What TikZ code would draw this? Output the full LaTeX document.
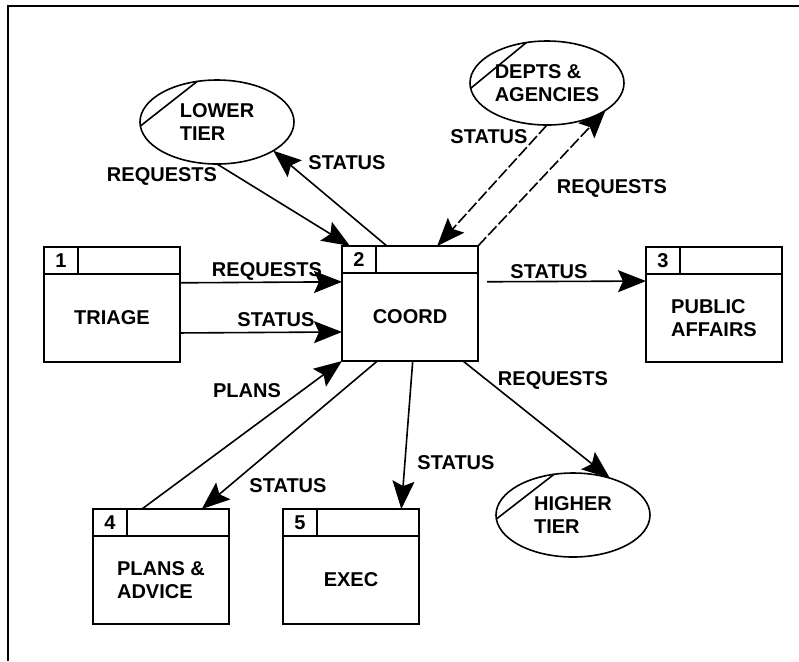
\documentclass[tikz,border=0pt]{standalone}
\usepackage{fontspec}
\setmainfont{Liberation Sans}
\usepackage{tikz}
\usetikzlibrary{arrows.meta,positioning,shapes.geometric,calc}

\begin{document}
\begin{tikzpicture}[
    x=0.5pt, y=-0.5pt,
    every node/.append style={font=\fontsize{10}{11.5}\selectfont\bfseries, outer sep=0pt},
    proc/.style={draw, line width=0.9pt, minimum width=68pt, minimum height=44pt, align=left},
    hdr/.style={draw, line width=0.9pt, minimum width=68pt, minimum height=13.5pt, inner sep=0pt},
    num/.style={draw, line width=0.9pt, minimum width=17pt, minimum height=13.5pt, inner sep=0pt},
    ext/.style={draw, ellipse, line width=0.8pt, minimum width=77pt, minimum height=42pt,
                inner sep=0pt, align=left},
    flow/.style={-{Stealth[length=14pt, width=11pt, inset=2.5pt]}, line width=0.8pt},
    faint/.style={dash pattern=on 6pt off 1.5pt},
    lbl/.style={inner sep=0pt},
  ]
  \useasboundingbox (0,0) rectangle (799,661);
  % frame
  \draw[line width=1pt] (8,661) -- (8,6) -- (799,6);

  % processes
  \node[proc] (b1) at (112,318) {TRIAGE};
  \node[hdr, above=0pt of b1] (h1) {};
  \node[num, right=0pt of h1.west] (n1) {1};

  \node[proc] (b2) at (410,317) {COORD};
  \node[hdr, above=0pt of b2] (h2) {};
  \node[num, right=0pt of h2.west] (n2) {2};

  \node[proc] (b3) at (714,318) {PUBLIC\\AFFAIRS};
  \node[hdr, above=0pt of b3] (h3) {};
  \node[num, right=0pt of h3.west] (n3) {3};

  \node[proc] (b4) at (161,580) {PLANS \&\\ADVICE};
  \node[hdr, above=0pt of b4] (h4) {};
  \node[num, right=0pt of h4.west] (n4) {4};

  \node[proc] (b5) at (351,580) {EXEC};
  \node[hdr, above=0pt of b5] (h5) {};
  \node[num, right=0pt of h5.west] (n5) {5};

  % externals
  \node[ext] (lt) at (217,122) {LOWER\\TIER};
  \node[ext] (da) at (547,83)  {DEPTS \&\\AGENCIES};
  \node[ext] (ht) at (573,515) {HIGHER\\TIER};
  \draw[line width=0.8pt] (lt.183) -- (lt.116);
  \draw[line width=0.8pt] (da.184) -- (da.117);
  \draw[line width=0.8pt] (ht.183) -- (ht.115);

  % flows
  \draw[flow] (lt.south) -- ($(h2.north west)+(8,0)$);
  \draw[flow] ($(h2.north west)!0.33!(h2.north east)$) -- (lt.-27);
  \draw[flow, faint] (da.south) -- ($(h2.north west)!0.7!(h2.north east)$);
  \draw[flow, faint] (h2.north east) -- (da.-25);
  \draw[flow] ($(b1.north east)!0.1!(b1.south east)$) -- ($(b2.north west)!0.1!(b2.south west)$);
  \draw[flow] ($(b1.north east)!0.67!(b1.south east)$) -- ($(b2.north west)!0.67!(b2.south west)$);
  \draw[flow, shorten <=4.5pt] ($(b2.north east)!0.1!(b2.south east)$) -- ($(b3.north west)!0.08!(b3.south west)$);
  \draw[flow] ($(h4.north west)!0.36!(h4.north east)$) -- (b2.south west);
  \draw[flow] ($(b2.south west)!0.26!(b2.south east)$) -- ($(h4.north west)!0.8!(h4.north east)$);
  \draw[flow] ($(b2.south west)!0.52!(b2.south east)$) -- ($(h5.north west)!0.87!(h5.north east)$);
  \draw[flow] ($(b2.south west)!0.89!(b2.south east)$) -- (ht.45);

  % flow labels
  \node[lbl] (lreq)  at (162,176) {REQUESTS};
  \node[lbl] (lstat) at (347,163) {STATUS};
  \node[lbl] (dstat) at (489,137) {STATUS};
  \node[lbl] (dreq)  at (612,188) {REQUESTS};
  \node[lbl] (treq)  at (267,271) {REQUESTS};
  \node[lbl] (tstat) at (276,320) {STATUS};
  \node[lbl] (pstat) at (549,272) {STATUS};
  \node[lbl] (plans) at (247,391) {PLANS};
  \node[lbl] (astat) at (288,486) {STATUS};
  \node[lbl] (estat) at (456,463) {STATUS};
  \node[lbl] (hreq)  at (553,380) {REQUESTS};
\end{tikzpicture}
\end{document}
